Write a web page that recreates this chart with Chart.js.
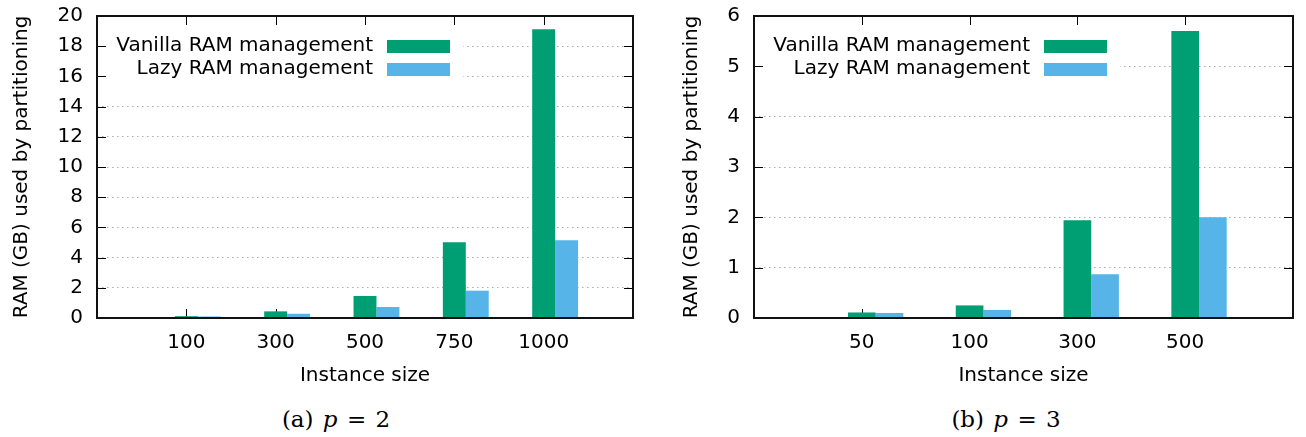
<!DOCTYPE html>
<html>
<head>
<meta charset="utf-8">
<script src="https://cdn.jsdelivr.net/npm/chart.js@4/dist/chart.umd.min.js"></script>
<style>
  body { margin: 0; width: 1306px; height: 437px; background: #fff; position: relative; overflow: hidden; }
  .box { position: absolute; top: 0; height: 395px; }
  .caption { position: absolute; top: 405px; transform: translateX(-50%); font-family: 'DejaVu Serif', serif;
             font-size: 23px; line-height: 28px; word-spacing: 2px; white-space: nowrap; color: #000; }
</style>
</head>
<body>
<div class="box" style="left:0;width:650px"><canvas id="chartA"></canvas></div>
<div class="box" style="left:650px;width:656px"><canvas id="chartB"></canvas></div>
<div class="caption" style="left:336px">(a) <i>p</i> = 2</div>
<div class="caption" style="left:1006px">(b) <i>p</i> = 3</div>
<script>
// values (GB)
const seriesNames = ['Vanilla RAM management', 'Lazy RAM management'];
const seriesColors = ['#009E73', '#56B4E9'];

const sizesA = ['100', '300', '500', '750', '1000'];
const vanillaA = [0.12, 0.44, 1.46, 5.01, 19.12];
const lazyA = [0.10, 0.28, 0.73, 1.81, 5.15];

const sizesB = ['50', '100', '300', '500'];
const vanillaB = [0.11, 0.25, 1.94, 5.70];
const lazyB = [0.10, 0.16, 0.87, 2.00];

const yMaxA = 20, yStepA = 2;
const yMaxB = 6, yStepB = 1;

Chart.defaults.font.family = "'DejaVu Sans', sans-serif";
Chart.defaults.font.size = 20;
Chart.defaults.color = '#000';

// gnuplot style key: text right-aligned, swatch on the right, white background
const keyBox = {
    id: 'keyBox',
    beforeDatasetsDraw(chart) {
        const { ctx, chartArea: a } = chart;
        const items = chart.data.datasets.filter((d) => !d.spacer);
        ctx.save();
        ctx.fillStyle = '#fff';
        ctx.fillRect(a.left + 1, a.top + 1, 365, 70);
        ctx.font = "20px 'DejaVu Sans'";
        ctx.textAlign = 'right';
        ctx.textBaseline = 'middle';
        items.forEach((d, i) => {
            const y = a.top + 30 + i * 23;
            ctx.fillStyle = '#000';
            ctx.fillText(d.label, a.left + 276, y);
            ctx.fillStyle = d.backgroundColor;
            ctx.fillRect(a.left + 290, y - 6, 63, 13);
        });
        ctx.restore();
    },
};

// inward tick marks on all four sides, then the border on top of the bars
const frame = {
    id: 'frame',
    beforeDatasetsDraw(chart) {
        const { ctx, chartArea: a, scales } = chart;
        ctx.save();
        ctx.strokeStyle = '#000';
        ctx.lineWidth = 1;
        ctx.beginPath();
        scales.y.ticks.forEach((t) => {
            if (t.value === scales.y.min || t.value === scales.y.max) return;
            const py = Math.round(scales.y.getPixelForValue(t.value)) + 0.5;
            ctx.moveTo(a.left, py); ctx.lineTo(a.left + 9, py);
            ctx.moveTo(a.right, py); ctx.lineTo(a.right - 9, py);
        });
        scales.x.ticks.forEach((t, i) => {
            if (scales.x.getLabelForValue(t.value) === '') return;
            const px = Math.round(scales.x.getPixelForTick(i)) + 0.5;
            ctx.moveTo(px, a.bottom); ctx.lineTo(px, a.bottom - 9);
            ctx.moveTo(px, a.top); ctx.lineTo(px, a.top + 9);
        });
        ctx.stroke();
        ctx.restore();
    },
    afterDatasetsDraw(chart) {
        const { ctx, chartArea: a } = chart;
        ctx.save();
        ctx.strokeStyle = '#111';
        ctx.lineWidth = 2;
        ctx.strokeRect(a.left, a.top, a.right - a.left, a.bottom - a.top);
        ctx.restore();
    },
};

function makeChart(id, sizes, vanilla, lazy, yMax, yStep, geom) {
    // empty slot on each side so categories sit at 1..n of 0..n+1
    const labels = ['', ...sizes, ''];
    const pad = (arr) => [null, ...arr, null];

    new Chart(document.getElementById(id), {
        type: 'bar',
        data: {
            labels: labels,
            datasets: [
                // invisible spacer so the green bar is centred on the tick
                { label: '', spacer: true, data: labels.map(() => null), backgroundColor: 'rgba(0,0,0,0)' },
                { label: seriesNames[0], data: pad(vanilla), backgroundColor: seriesColors[0] },
                { label: seriesNames[1], data: pad(lazy), backgroundColor: seriesColors[1] },
            ],
        },
        options: {
            responsive: true,
            maintainAspectRatio: false,
            animation: false,
            barPercentage: 1,
            categoryPercentage: 0.77,
            layout: { padding: { left: 0, top: 16, right: geom.right, bottom: 0 } },
            plugins: { legend: { display: false }, tooltip: { enabled: false } },
            scales: {
                x: {
                    offset: false,
                    grid: { display: false, drawTicks: false },
                    border: { display: false },
                    ticks: { autoSkip: false, maxRotation: 0, padding: 13 },
                    title: { display: true, text: 'Instance size', padding: { top: 4, bottom: 7 } },
                    afterFit: (s) => { s.height = 77; },
                },
                y: {
                    min: 0,
                    max: yMax,
                    ticks: { stepSize: yStep, padding: 14 },
                    grid: {
                        drawTicks: false,
                        lineWidth: 1,
                        color: (c) => (c.tick && (c.tick.value === 0 || c.tick.value === yMax)) ? 'rgba(0,0,0,0)' : '#aaaaaa',
                    },
                    border: { display: false, dash: [1.5, 3.5] },
                    title: { display: true, text: 'RAM (GB) used by partitioning', padding: { top: geom.titlePad, bottom: 4 } },
                    afterFit: (s) => {
                        s.width = geom.axisWidth;
                        s.paddingTop = 0;
                        s.paddingBottom = 0;
                    },
                },
            },
        },
        plugins: [keyBox, frame],
    });
}

makeChart('chartA', sizesA, vanillaA, lazyA, yMaxA, yStepA, { axisWidth: 97, titlePad: 10, right: 17 });
makeChart('chartB', sizesB, vanillaB, lazyB, yMaxB, yStepB, { axisWidth: 104, titlePad: 30, right: 3 });
</script>
</body>
</html>
